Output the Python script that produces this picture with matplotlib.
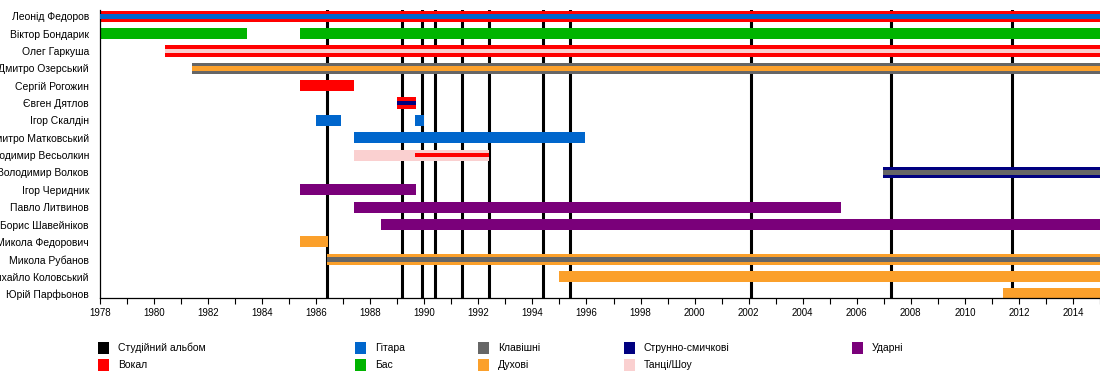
import matplotlib
matplotlib.use("Agg")
import matplotlib.pyplot as plt
from matplotlib.ticker import MultipleLocator

plt.rcParams['font.family'] = ['Liberation Sans', 'DejaVu Sans']

END = 2015.0

members = ["Леонід Федоров", "Віктор Бондарик", "Олег Гаркуша", "Дмитро Озерський",
           "Сергій Рогожин", "Євген Дятлов", "Ігор Скалдін", "Дмитро Матковський",
           "Володимир Весьолкин", "Володимир Волков", "Ігор Черидник", "Павло Литвинов",
           "Борис Шавейніков", "Микола Федорович", "Микола Рубанов", "Михайло Коловський",
           "Юрій Парфьонов"]

# one entry per bar: member, start, end, main role, inner-stripe role
bar_member = ["Леонід Федоров", "Віктор Бондарик", "Віктор Бондарик", "Олег Гаркуша",
              "Дмитро Озерський", "Сергій Рогожин", "Євген Дятлов", "Ігор Скалдін",
              "Ігор Скалдін", "Дмитро Матковський", "Володимир Весьолкин",
              "Володимир Весьолкин", "Володимир Волков", "Ігор Черидник", "Павло Литвинов",
              "Борис Шавейніков", "Микола Федорович", "Микола Рубанов",
              "Михайло Коловський", "Юрій Парфьонов"]
bar_start = [1978.0, 1978.0, 1985.4, 1980.4, 1981.4, 1985.4, 1989.0, 1986.0, 1989.65,
             1987.4, 1987.4, 1989.65, 2006.97, 1985.4, 1987.4, 1988.4, 1985.4, 1986.4,
             1995.0, 2011.4]
bar_end = [END, 1983.45, END, END, END, 1987.4, 1989.7, 1986.9, 1990.0,
           1995.95, 1992.4, 1992.4, END, 1989.7, 2005.4, END, 1986.45, END,
           END, END]
bar_role = ["Вокал", "Бас", "Бас", "Вокал", "Клавішні", "Вокал", "Вокал", "Гітара",
            "Гітара", "Гітара", "Танці/Шоу", None, "Струнно-смичкові", "Ударні", "Ударні",
            "Ударні", "Духові", "Духові", "Духові", "Духові"]
bar_inner = ["Гітара", None, None, "Танці/Шоу", "Духові", None, "Струнно-смичкові", None,
             None, None, None, "Вокал", "Клавішні", None, None, None, None, "Клавішні",
             None, None]

albums = [1986.4, 1989.18, 1989.92, 1990.4, 1991.4, 1992.4, 1994.4, 1995.4,
          2002.07, 2007.28, 2011.76]

role_colors = {
    "Студійний альбом": "#000000",
    "Вокал": "#FF0000",
    "Гітара": "#0066CC",
    "Бас": "#00B400",
    "Клавішні": "#666666",
    "Духові": "#FBA02B",
    "Струнно-смичкові": "#000080",
    "Танці/Шоу": "#FAD0D0",
    "Ударні": "#7A007A",
}
legend_order = [["Студійний альбом", "Вокал"], ["Гітара", "Бас"], ["Клавішні", "Духові"],
                ["Струнно-смичкові", "Танці/Шоу"], ["Ударні"]]

W, H = 1100, 378
fig = plt.figure(figsize=(W / 100, H / 100), dpi=100)
ax = fig.add_axes([100 / W, (H - 298) / H, 1000 / W, 288 / H])

row = {m: i for i, m in enumerate(members)}

for x in albums:
    ax.axvline(x, color="black", lw=2.2, zorder=1)

for m, s, e, r, inner in zip(bar_member, bar_start, bar_end, bar_role, bar_inner):
    y = row[m]
    if r is not None:
        ax.barh(y, e - s, left=s, height=0.64, color=role_colors[r], zorder=2, lw=0)
    if inner is not None:
        ax.barh(y, e - s, left=s, height=0.27, color=role_colors[inner], zorder=3, lw=0)

ax.set_xlim(1978, END)
ax.set_ylim(16.23, -0.36)
ax.set_yticks(range(len(members)))
ax.set_yticklabels(members, fontsize=7.5)
ax.tick_params(axis="y", length=0, pad=8)
ax.xaxis.set_major_locator(MultipleLocator(2))
ax.xaxis.set_minor_locator(MultipleLocator(1))
ax.tick_params(axis="x", which="both", direction="out", length=4, width=0.8,
               labelsize=7, pad=3)
for sp in ["top", "right"]:
    ax.spines[sp].set_visible(False)
for sp in ["left", "bottom"]:
    ax.spines[sp].set_linewidth(0.9)

# legend in pixel space
lg = fig.add_axes([0, 0, 1, 1], zorder=-1)
lg.set_xlim(0, W)
lg.set_ylim(H, 0)
lg.axis("off")
col_x = [98, 355, 478, 624, 852]
row_y = [348, 365]
for cx, names in zip(col_x, legend_order):
    for ry, name in zip(row_y, names):
        lg.add_patch(plt.Rectangle((cx, ry - 6), 11, 12, color=role_colors[name], lw=0))
        lg.text(cx + 20, ry, name, fontsize=7.5, va="center", ha="left")

fig.savefig("out.png", dpi=100)
